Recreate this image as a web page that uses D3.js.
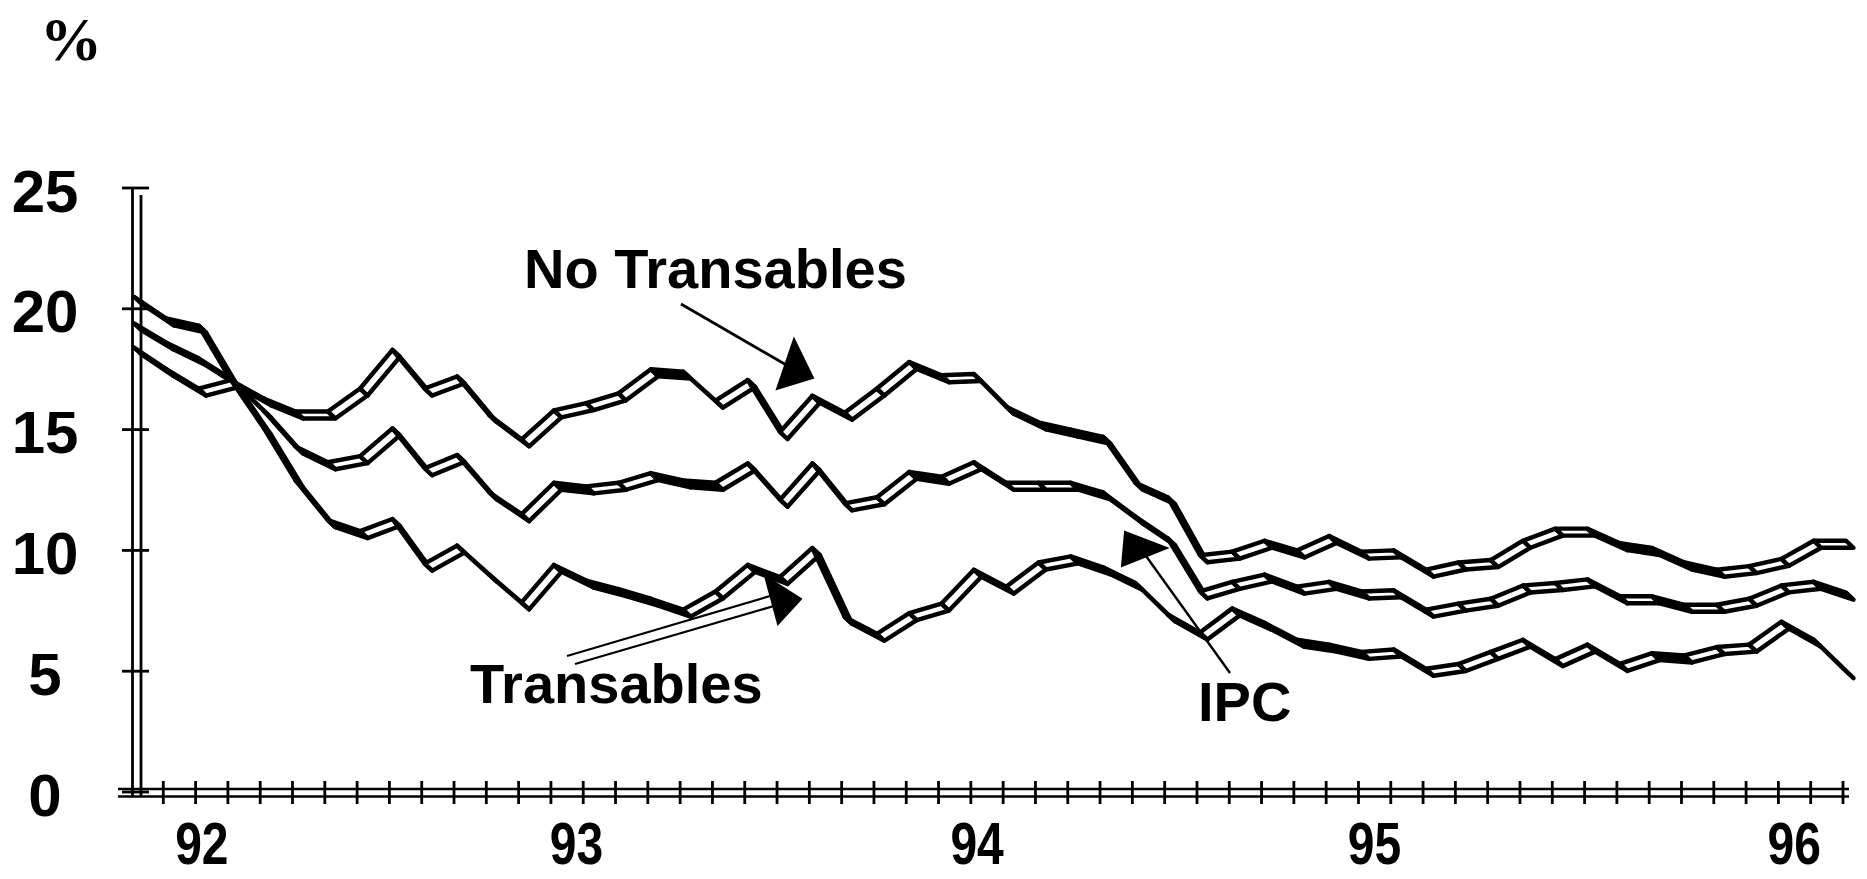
<!DOCTYPE html>
<html><head><meta charset="utf-8">
<script src="https://cdn.jsdelivr.net/npm/d3@7/dist/d3.min.js"></script>
<style>
html,body{margin:0;padding:0;background:#fff;}
svg{display:block;}
</style></head>
<body>
<svg id="chart" width="1867" height="879"></svg>
<script>
// Monthly observations, Nov 1991 .. Apr 1996 (54 months)
const months = d3.timeMonths(new Date(1991, 10, 1), new Date(1996, 4, 1));

const noTransables = [20.5, 19.6, 19.3, 17.05, 16.3, 15.75, 15.75, 16.7, 18.3, 16.7,
  17.2, 15.6, 14.6, 15.8, 16.1, 16.5, 17.5, 17.4, 16.2, 17.05,
  14.9, 16.4, 15.7, 16.7, 17.8, 17.25, 17.3, 15.95, 15.3, 15.0,
  14.7, 12.8, 12.2, 9.8, 9.95, 10.4, 10.0, 10.6, 9.95, 10.0,
  9.2, 9.5, 9.6, 10.4, 10.9, 10.9, 10.3, 10.1, 9.5, 9.2,
  9.35, 9.65, 10.4, 10.4];

const ipc = [19.4, 18.6, 17.95, 17.1, 15.8, 14.3, 13.65, 13.9, 15.05, 13.4,
  13.95, 12.4, 11.5, 12.8, 12.65, 12.8, 13.2, 12.9, 12.8, 13.6,
  12.1, 13.6, 11.95, 12.2, 13.25, 13.05, 13.65, 12.8, 12.8, 12.8,
  12.4, 11.4, 10.5, 8.3, 8.7, 9.0, 8.5, 8.7, 8.3, 8.35,
  7.55, 7.8, 8.0, 8.55, 8.65, 8.8, 8.1, 8.1, 7.75, 7.75,
  8.0, 8.55, 8.7, 8.25];

const transables = [18.4, 17.5, 16.7, 17.05, 15.1, 12.9, 11.25, 10.8, 11.3, 9.45,
  10.2, 9.0, 7.85, 9.4, 8.75, 8.4, 8.0, 7.55, 8.3, 9.4,
  8.9, 10.1, 7.25, 6.55, 7.4, 7.8, 9.2, 8.5, 9.5, 9.75,
  9.3, 8.65, 7.35, 6.6, 7.6, 7.0, 6.3, 6.1, 5.8, 5.9,
  5.1, 5.3, 5.8, 6.3, 5.5, 6.1, 5.3, 5.75, 5.65, 6.0,
  6.1, 7.05, 6.3, 5.0];

const yTicks = [0, 5, 10, 15, 20, 25];
const yearLabels = ["92", "93", "94", "95", "96"];
const yearLabelMonth = [2.1, 13.7, 26.1, 38.4, 51.4];   // month index under which each year label sits
const seriesNames = ["No Transables", "IPC", "Transables"];

// ---------------------------------------------------------------
const svg = d3.select("#chart");
const x = d3.scaleLinear().domain([0, months.length - 1]).range([134, 1846]);
const y = d3.scaleLinear().domain([0, 25]).range([792, 188]);

const BOLD = "'Liberation Sans', Arial, sans-serif";

// "%" unit label
svg.append("text").attr("x", 40).attr("y", 60)
  .attr("font-family", "'Liberation Serif', 'Times New Roman', serif")
  .attr("font-weight", "bold").attr("font-size", 62).text("%");

// Y axis: double wall line + ticks + labels
const yAxisG = svg.append("g");
[132.5, 141].forEach((xx, k) => {
  yAxisG.append("line").attr("x1", xx).attr("x2", xx)
    .attr("y1", y(25) + (k ? 7 : 0)).attr("y2", y(0) + 5)
    .attr("stroke", "#000").attr("stroke-width", 2.8);
});
yAxisG.selectAll("line.ytick").data(yTicks).enter().append("line")
  .attr("class", "ytick")
  .attr("x1", 122).attr("x2", 149)
  .attr("y1", d => y(d)).attr("y2", d => y(d))
  .attr("stroke", "#000").attr("stroke-width", 2.8);
yAxisG.selectAll("text").data(yTicks).enter().append("text")
  .attr("x", 45).attr("y", d => y(d) + 3)
  .attr("text-anchor", "middle").attr("dominant-baseline", "central")
  .attr("font-family", BOLD).attr("font-weight", "bold").attr("font-size", 60)
  .text(d => d);

// X axis: double floor line + monthly ticks + year labels
const xAxisG = svg.append("g");
[789, 796.5].forEach(yy => {
  xAxisG.append("line").attr("x1", 118).attr("x2", x(months.length - 1) + 3)
    .attr("y1", yy).attr("y2", yy)
    .attr("stroke", "#000").attr("stroke-width", 2.6);
});
xAxisG.selectAll("line.xtick").data(d3.range(1, months.length)).enter().append("line")
  .attr("class", "xtick")
  .attr("x1", i => x(i) - 3).attr("x2", i => x(i) - 3)
  .attr("y1", 781).attr("y2", 804)
  .attr("stroke", "#000").attr("stroke-width", 2.8);
xAxisG.selectAll("text").data(yearLabels).enter().append("text")
  .attr("transform", (d, k) => `translate(${x(yearLabelMonth[k])},864) scale(0.8,1)`)
  .attr("text-anchor", "middle")
  .attr("font-family", BOLD).attr("font-weight", "bold").attr("font-size", 60)
  .text(d => d);

// 3-D ribbon lines (front edge = data, back edge offset down-right)
const OX = 7.5, OY = 7;
function ribbon(vals) {
  const g = svg.append("g");
  const segs = d3.range(vals.length - 1);
  g.selectAll("path").data(segs).enter().append("path")
    .attr("d", i => {
      const x0 = x(i), y0 = y(vals[i]), x1 = x(i + 1), y1 = y(vals[i + 1]);
      return `M${x0},${y0}L${x1},${y1}L${x1 + OX},${y1 + OY}L${x0 + OX},${y0 + OY}Z`;
    })
    .attr("fill", i => (vals[i + 1] >= vals[i] - 0.02 ? "#fff" : "#000"))
    .attr("stroke", "#000").attr("stroke-width", 4.4)
    .attr("stroke-linejoin", "round");
}
[noTransables, ipc, transables].forEach(ribbon);

// Annotations
const ann = svg.append("g").attr("font-family", BOLD).attr("font-weight", "bold").attr("font-size", 56);
ann.append("text").attr("x", 524).attr("y", 288).text(seriesNames[0]);
ann.append("text").attr("x", 1198).attr("y", 721).text(seriesNames[1]);
ann.append("text").attr("x", 470).attr("y", 703).text(seriesNames[2]);

// No Transables arrow
svg.append("line").attr("x1", 681).attr("y1", 304).attr("x2", 788).attr("y2", 366)
  .attr("stroke", "#000").attr("stroke-width", 2.8);
svg.append("path").attr("d", "M794,339L813,378L777,389Z").attr("fill", "#000").attr("stroke", "#000").attr("stroke-width", 2);

// Transables arrow (double thin line)
svg.append("line").attr("x1", 567).attr("y1", 656).attr("x2", 770).attr("y2", 596)
  .attr("stroke", "#000").attr("stroke-width", 2.2);
svg.append("line").attr("x1", 575).attr("y1", 664).attr("x2", 774).attr("y2", 606)
  .attr("stroke", "#000").attr("stroke-width", 2.2);
svg.append("path").attr("d", "M765,576L801,599L778,624Z").attr("fill", "#000").attr("stroke", "#000").attr("stroke-width", 2);

// IPC arrow
svg.append("line").attr("x1", 1230).attr("y1", 673).attr("x2", 1146).attr("y2", 556)
  .attr("stroke", "#000").attr("stroke-width", 2.4);
svg.append("path").attr("d", "M1125,532L1167,548L1122,566Z").attr("fill", "#000").attr("stroke", "#000").attr("stroke-width", 2);
</script>
</body></html>
